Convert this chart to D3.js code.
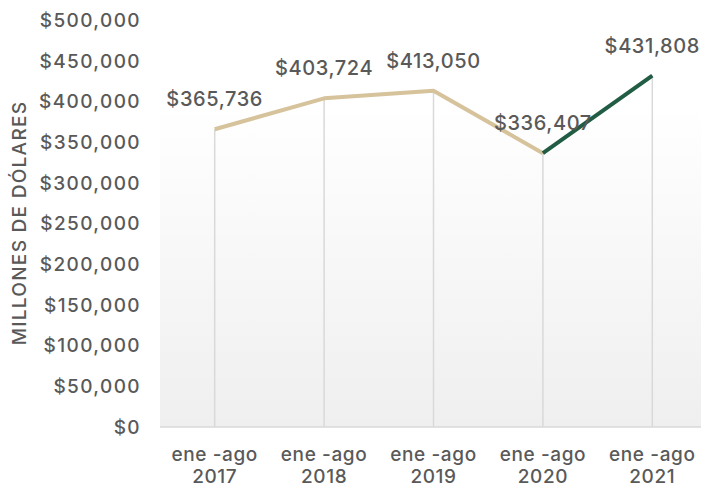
<!DOCTYPE html>
<html>
<head>
<meta charset="utf-8">
<script src="https://cdn.jsdelivr.net/npm/d3@7"></script>
<style>
  body { margin: 0; background: #fff; }
  text { font-family: Inter, "DejaVu Sans", sans-serif; font-weight: 500; fill: #595959; letter-spacing: 0.6px; }
</style>
</head>
<body>
<div id="chart"></div>
<script>
// Data
const periods = ['ene -ago 2017', 'ene -ago 2018', 'ene -ago 2019', 'ene -ago 2020', 'ene -ago 2021']
const values = [365736, 403724, 413050, 336407, 431808]
const yTicks = [0, 50000, 100000, 150000, 200000, 250000, 300000, 350000, 400000, 450000, 500000]
const yTitle = 'MILLONES DE DÓLARES'

const dataset = periods.map((p, i) => ({ period: p, value: values[i] }))

// Dimensions
let dimensions = {
  width: 701,
  height: 487,
  left: 160,
  right: 707,
  top: 20,
  bottom: 427,
}

const svg = d3.select('#chart')
  .append('svg')
  .attr('width', dimensions.width)
  .attr('height', dimensions.height)

// Scales
const xScale = d3.scalePoint()
  .domain(periods)
  .range([dimensions.left, dimensions.right])
  .padding(0.5)

const yScale = d3.scaleLinear()
  .domain([0, 500000])
  .range([dimensions.bottom, dimensions.top])

const fmt = d => '$' + d3.format(',')(d)

// plot area background
const defs = svg.append('defs')
const grad = defs.append('linearGradient')
  .attr('id', 'bg')
  .attr('x1', 0).attr('y1', 0)
  .attr('x2', 0).attr('y2', 1)
grad.append('stop').attr('offset', '0%').attr('stop-color', '#ffffff')
grad.append('stop').attr('offset', '12%').attr('stop-color', '#ffffff')
grad.append('stop').attr('offset', '100%').attr('stop-color', '#efefef')

svg.append('rect')
  .attr('x', dimensions.left)
  .attr('y', yScale(450000))
  .attr('width', dimensions.right - dimensions.left)
  .attr('height', dimensions.bottom - yScale(450000))
  .attr('fill', 'url(#bg)')

// y axis labels
svg.append('g')
  .selectAll('text')
  .data(yTicks)
  .join('text')
  .attr('x', 141)
  .attr('y', d => yScale(d))
  .attr('dy', '0.36em')
  .attr('text-anchor', 'end')
  .style('font-size', '19px')
  .style('letter-spacing', '1.4px')
  .text(fmt)

svg.append('text')
  .attr('transform', `translate(26, 223) rotate(-90)`)
  .attr('text-anchor', 'middle')
  .style('font-size', '19px')
  .style('letter-spacing', '1.3px')
  .text(yTitle)

// drop lines
svg.append('g')
  .selectAll('line')
  .data(dataset)
  .join('line')
  .attr('x1', d => xScale(d.period))
  .attr('x2', d => xScale(d.period))
  .attr('y1', d => yScale(d.value))
  .attr('y2', dimensions.bottom)
  .attr('stroke', '#d9d9d9')
  .attr('stroke-width', 1.5)

// baseline
svg.append('line')
  .attr('x1', dimensions.left)
  .attr('x2', dimensions.right)
  .attr('y1', yScale(0))
  .attr('y2', yScale(0))
  .attr('stroke', '#d9d9d9')
  .attr('stroke-width', 1.5)

// x labels
const xLabels = svg.append('g')
  .selectAll('text')
  .data(periods)
  .join('text')
  .attr('text-anchor', 'middle')
  .style('font-size', '19px')
xLabels.append('tspan')
  .attr('x', d => xScale(d))
  .attr('y', 461)
  .text(d => d.split(' ').slice(0, 2).join(' '))
xLabels.append('tspan')
  .attr('x', d => xScale(d))
  .attr('y', 483)
  .text(d => d.split(' ')[2])

// lines
const line = d3.line()
  .x(d => xScale(d.period))
  .y(d => yScale(d.value))

svg.append('path')
  .datum(dataset.slice(0, 4))
  .attr('d', line)
  .attr('fill', 'none')
  .attr('stroke', '#d6c29b')
  .attr('stroke-width', 4)
  .attr('stroke-linejoin', 'round')

svg.append('path')
  .datum(dataset.slice(3))
  .attr('d', line)
  .attr('fill', 'none')
  .attr('stroke', '#215c45')
  .attr('stroke-width', 4)
  .attr('stroke-linejoin', 'round')

// data labels
svg.append('g')
  .selectAll('text')
  .data(dataset)
  .join('text')
  .attr('x', d => xScale(d.period))
  .attr('y', d => yScale(d.value) - 23)
  .attr('text-anchor', 'middle')
  .style('font-size', '20px')
  .text(d => fmt(d.value))
</script>
</body>
</html>
